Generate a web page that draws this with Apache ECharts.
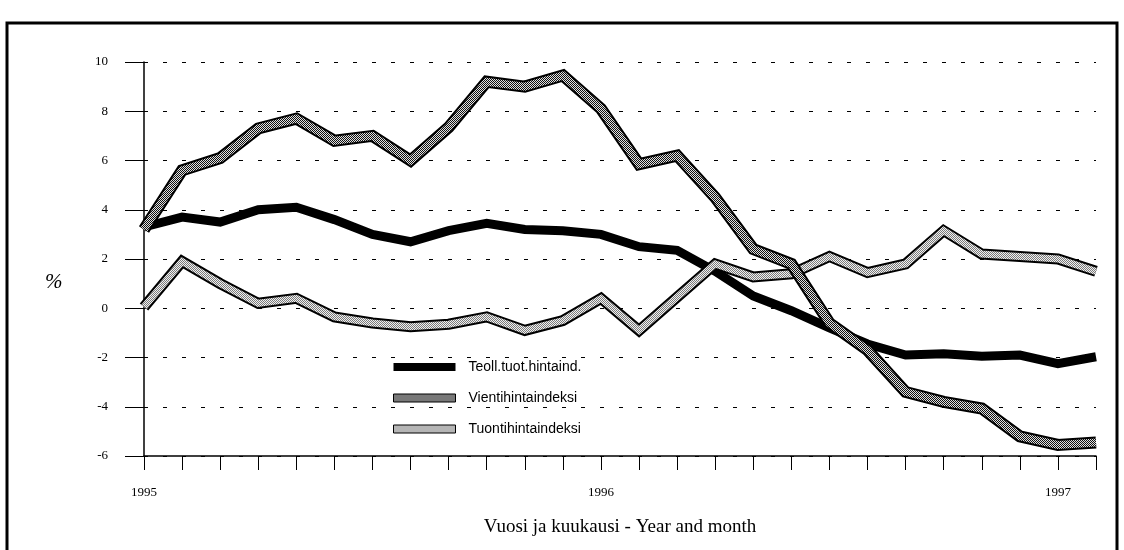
<!DOCTYPE html>
<html>
<head>
<meta charset="utf-8">
<script src="https://cdn.jsdelivr.net/npm/echarts@6/dist/echarts.min.js"></script>
<style>
    html, body { margin: 0; padding: 0; background: #fff; }
    #chart { width: 1124px; height: 550px; }
</style>
</head>
<body>
<div id="chart"></div>
<script>
// months Jan 1995 .. Feb 1997
let months = ['1995-01', '1995-02', '1995-03', '1995-04', '1995-05', '1995-06', '1995-07', '1995-08', '1995-09', '1995-10', '1995-11', '1995-12',
    '1996-01', '1996-02', '1996-03', '1996-04', '1996-05', '1996-06', '1996-07', '1996-08', '1996-09', '1996-10', '1996-11', '1996-12',
    '1997-01', '1997-02'];
let teoll = [3.3, 3.7, 3.5, 4.0, 4.1, 3.6, 3.0, 2.7, 3.15, 3.45, 3.2, 3.15, 3.0, 2.5, 2.35, 1.5, 0.5, -0.1, -0.8, -1.45, -1.9, -1.85, -1.95, -1.9, -2.25, -1.97];
let vienti = [3.2, 5.6, 6.1, 7.3, 7.7, 6.8, 7.0, 6.0, 7.35, 9.2, 9.0, 9.45, 8.1, 5.85, 6.2, 4.5, 2.4, 1.8, -0.6, -1.7, -3.4, -3.8, -4.07, -5.2, -5.55, -5.45];
let tuonti = [0.05, 1.9, 1.0, 0.2, 0.4, -0.35, -0.6, -0.75, -0.65, -0.35, -0.9, -0.5, 0.4, -0.9, 0.45, 1.8, 1.27, 1.4, 2.1, 1.45, 1.8, 3.15, 2.2, 2.1, 2.0, 1.5];
let names = ['Teoll.tuot.hintaind.', 'Vientihintaindeksi', 'Tuontihintaindeksi'];

// small checker textures for the hatched lines
function makePattern(c1, c2) {
    let cv = document.createElement('canvas');
    cv.width = 2;
    cv.height = 2;
    let ctx = cv.getContext('2d');
    ctx.fillStyle = c2;
    ctx.fillRect(0, 0, 2, 2);
    ctx.fillStyle = c1;
    ctx.fillRect(0, 0, 1, 1);
    ctx.fillRect(1, 1, 1, 1);
    return { image: cv, repeat: 'repeat' };
}
let vientiFill = makePattern('#111', '#e0e0e0');
let tuontiFill = makePattern('#7a7a7a', '#f0f0f0');

let serif = '"Liberation Serif", "Times New Roman", serif';

function lineSeries(name, data, color, width, z) {
    return {
        name: name,
        type: 'line',
        data: data,
        symbol: 'none',
        z: z,
        lineStyle: { color: color, width: width, join: 'miter', cap: 'butt' },
        emphasis: { disabled: true }
    };
}

let myChart = echarts.init(document.getElementById('chart'));
let option = {
    animation: false,
    backgroundColor: '#fff',
    grid: { left: 144, right: 28, top: 62, bottom: 94 },
    legend: {
        orient: 'vertical',
        left: 388,
        top: 355,
        itemWidth: 62,
        itemHeight: 8,
        itemGap: 17,
        icon: 'rect',
        textStyle: { fontFamily: '"Liberation Sans", Arial, sans-serif', fontSize: 14, color: '#000', padding: [0, 0, 0, 8] },
        data: [
            { name: names[0], itemStyle: { color: '#000' } },
            { name: names[1], itemStyle: { color: vientiFill, borderColor: '#000', borderWidth: 1 } },
            { name: names[2], itemStyle: { color: tuontiFill, borderColor: '#000', borderWidth: 1 } }
        ]
    },
    xAxis: {
        type: 'category',
        boundaryGap: false,
        data: months,
        name: 'Vuosi ja kuukausi - Year and month',
        nameLocation: 'middle',
        nameGap: 62,
        nameTextStyle: { fontFamily: serif, fontSize: 19, color: '#000' },
        axisLine: { onZero: false, lineStyle: { color: '#000', width: 1.5 } },
        axisTick: { interval: 0, length: 14, lineStyle: { color: '#000' } },
        axisLabel: {
            interval: 0,
            margin: 30,
            fontFamily: serif,
            fontSize: 13,
            color: '#000',
            formatter: function (v) {
                return v.slice(5) === '01' ? v.slice(0, 4) : '';
            }
        },
        splitLine: { show: false }
    },
    yAxis: {
        type: 'value',
        min: -6,
        max: 10,
        interval: 2,
        axisLine: { show: true, lineStyle: { color: '#000', width: 1.5 } },
        axisTick: { show: true, length: 19, lineStyle: { color: '#000' } },
        axisLabel: { margin: 36, fontFamily: serif, fontSize: 13, color: '#000' },
        splitLine: { show: true, lineStyle: { color: '#000', type: [4, 15], width: 1.2 } }
    },
    graphic: [
        {
            type: 'rect',
            shape: { x: 7, y: 23, width: 1110, height: 560 },
            style: { fill: 'none', stroke: '#000', lineWidth: 3 },
            silent: true
        },
        {
            type: 'text',
            left: 45,
            top: 272,
            style: { text: '%', font: 'italic 21px ' + serif, fill: '#000' }
        }
    ],
    series: [
        lineSeries(names[0], teoll, '#000', 9, 2),
        lineSeries('tuonti_outline', tuonti, '#000', 11, 3),
        lineSeries(names[2], tuonti, tuontiFill, 7, 4),
        lineSeries('vienti_outline', vienti, '#000', 12, 5),
        lineSeries(names[1], vienti, vientiFill, 8, 6)
    ]
};

if (option && typeof option === 'object') {
    myChart.setOption(option);
}
</script>
</body>
</html>
